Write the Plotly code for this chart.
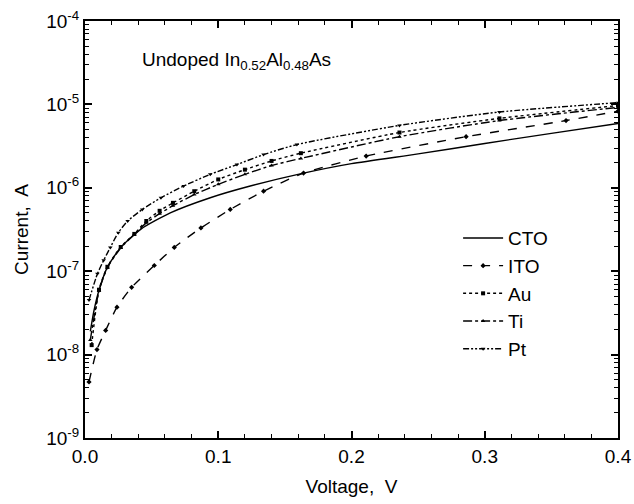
import plotly.graph_objects as go

# Voltage (V) and current (A)
cto_v = [0.004, 0.0068, 0.0105, 0.0168, 0.0268, 0.042, 0.064, 0.094, 0.124, 0.164, 0.2, 0.25, 0.3, 0.35, 0.4]
cto_i = [1.9e-8, 3.4e-8, 5.9e-8, 1.12e-7, 1.93e-7, 3.2e-7, 5.0e-7, 7.6e-7, 1.05e-6, 1.5e-6, 1.95e-6, 2.55e-6, 3.4e-6, 4.5e-6, 5.9e-6]

ito_v = [0.003, 0.009, 0.0155, 0.024, 0.035, 0.052, 0.067, 0.087, 0.109, 0.134, 0.164, 0.211, 0.286, 0.361, 0.4]
ito_i = [4.7e-9, 1.15e-8, 1.95e-8, 3.7e-8, 6.4e-8, 1.17e-7, 1.93e-7, 3.3e-7, 5.5e-7, 9.1e-7, 1.5e-6, 2.4e-6, 4.1e-6, 6.4e-6, 8.3e-6]

au_v = [0.005, 0.0105, 0.0168, 0.0268, 0.037, 0.046, 0.056, 0.066, 0.082, 0.1, 0.12, 0.14, 0.162, 0.236, 0.311, 0.4]
au_i = [1.3e-8, 6.0e-8, 1.13e-7, 1.95e-7, 2.8e-7, 4.0e-7, 5.3e-7, 6.6e-7, 9.1e-7, 1.26e-6, 1.65e-6, 2.1e-6, 2.6e-6, 4.6e-6, 6.8e-6, 9.7e-6]

ti_v = [0.004, 0.0105, 0.0168, 0.0268, 0.037, 0.046, 0.056, 0.066, 0.082, 0.1, 0.12, 0.14, 0.162, 0.236, 0.311, 0.4]
ti_i = [1.5e-8, 5.8e-8, 1.1e-7, 1.9e-7, 2.75e-7, 3.8e-7, 4.9e-7, 6.1e-7, 8.3e-7, 1.1e-6, 1.45e-6, 1.85e-6, 2.25e-6, 4.1e-6, 6.4e-6, 9.2e-6]

pt_v = [0.003, 0.0093, 0.014, 0.019, 0.025, 0.032, 0.043, 0.057, 0.074, 0.094, 0.114, 0.134, 0.159, 0.236, 0.311, 0.4]
pt_i = [4.5e-8, 9.3e-8, 1.35e-7, 1.93e-7, 2.9e-7, 4.0e-7, 5.5e-7, 7.6e-7, 1.05e-6, 1.45e-6, 1.9e-6, 2.5e-6, 3.3e-6, 5.6e-6, 8.1e-6, 1.05e-5]

series = [
    ("CTO", cto_v, cto_i, "solid", None),
    ("ITO", ito_v, ito_i, "dash", "diamond"),
    ("Au", au_v, au_i, "dot", "square"),
    ("Ti", ti_v, ti_i, "dashdot", "triangle-up"),
    ("Pt", pt_v, pt_i, "6px,2px,2px,2px,2px,2px", "triangle-down"),
]

y_tickvals = [1e-9, 1e-8, 1e-7, 1e-6, 1e-5, 1e-4]
y_ticktext = ["10<sup>-9</sup>", "10<sup>-8</sup>", "10<sup>-7</sup>", "10<sup>-6</sup>", "10<sup>-5</sup>", "10<sup>-4</sup>"]
x_tickvals = [0.0, 0.1, 0.2, 0.3, 0.4]
x_ticktext = ["0.0", "0.1", "0.2", "0.3", "0.4"]

FONT = "Liberation Sans, Arial, sans-serif"
FS = 19

fig = go.Figure()
for i, (name, v, cur, dash, sym) in enumerate(series):
    kw = dict(mode="lines")
    if sym:
        kw = dict(mode="lines+markers", marker=dict(symbol=sym, size=4, color="black"))
    fig.add_trace(go.Scatter(
        x=v, y=cur, name=name, legendgroup=name,
        line=dict(color="black", width=1.4, dash=dash, shape="spline", smoothing=0.6),
        **kw))

fig.update_layout(
    width=634, height=504,
    paper_bgcolor="white", plot_bgcolor="white",
    margin=dict(l=85, r=16, t=21, b=66),
    font=dict(family=FONT, size=FS, color="black"),
    showlegend=True,
    legend=dict(x=0.70, y=0.525, xanchor="left", yanchor="top",
                bgcolor="rgba(0,0,0,0)", font=dict(size=FS),
                tracegroupgap=0, itemwidth=40),
    annotations=[dict(
        text="Undoped In<sub>0.52</sub>Al<sub>0.48</sub>As",
        x=0.103, y=0.905, xref="paper", yref="paper",
        xanchor="left", yanchor="middle", showarrow=False,
        font=dict(size=FS))],
)

fig.update_xaxes(
    range=[0, 0.4], tickvals=x_tickvals, ticktext=x_ticktext,
    ticks="inside", ticklen=7, tickwidth=1.5, tickcolor="black",
    showline=True, linewidth=2, linecolor="black", mirror="ticks",
    showgrid=False, zeroline=False, automargin=False,
    tickfont=dict(size=FS), ticklabeloverflow="allow",
    minor=dict(dtick=0.02, ticks="inside", ticklen=4, tickwidth=1.2, tickcolor="black", showgrid=False),
    title=dict(text="Voltage,  V", font=dict(size=FS), standoff=14),
)
fig.update_yaxes(
    type="log", range=[-9, -4], tickvals=y_tickvals, ticktext=y_ticktext,
    ticks="inside", ticklen=7, tickwidth=1.5, tickcolor="black",
    showline=True, linewidth=2, linecolor="black", mirror="ticks",
    showgrid=False, zeroline=False, automargin=False,
    tickfont=dict(size=FS), ticklabeloverflow="allow",
    minor=dict(dtick="D1", ticks="inside", ticklen=4, tickwidth=1.2, tickcolor="black", showgrid=False),
    title=dict(text="Current,  A", font=dict(size=FS), standoff=13),
)

# remove the page's default 8px body margin so the 634x504 figure fills the window
fig.write_html("out.html", config={"displayModeBar": False},
               post_script="document.body.style.margin='0';document.body.style.overflow='hidden';")
